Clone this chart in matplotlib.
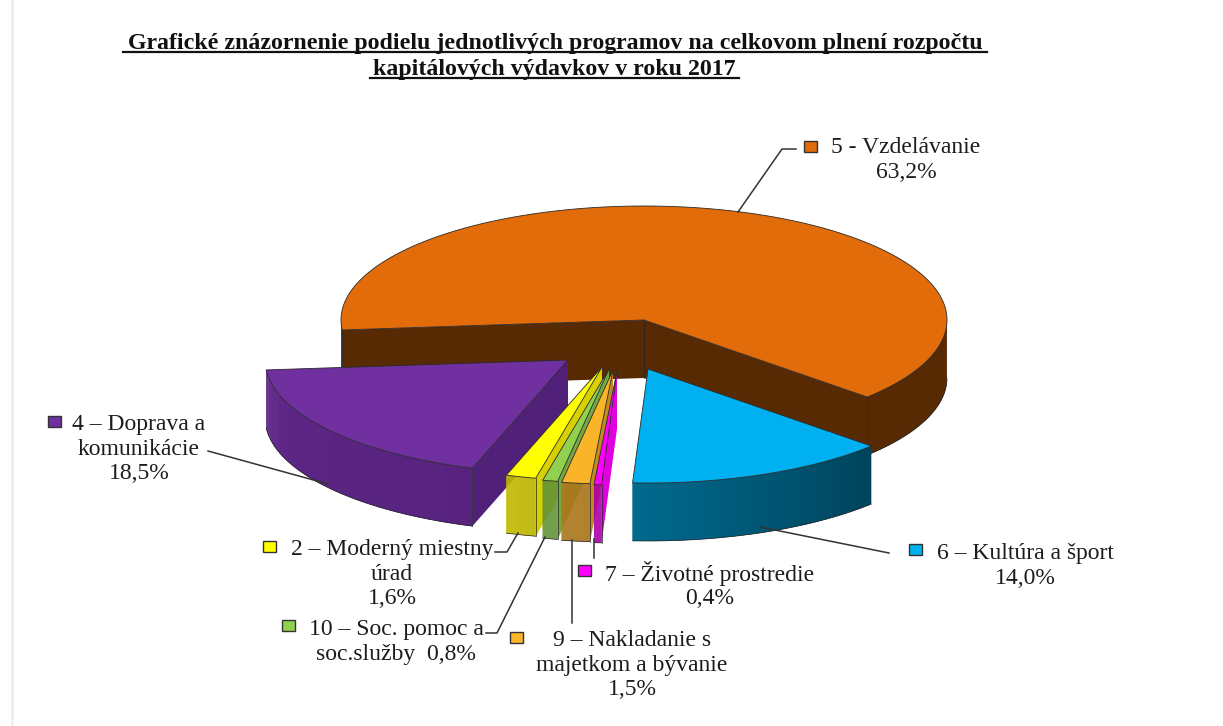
import numpy as np
import matplotlib
matplotlib.use('Agg')
import matplotlib.pyplot as plt
from matplotlib.colors import to_rgb
from matplotlib.patches import Polygon, Rectangle

plt.rcParams['font.family'] = ['Liberation Serif', 'DejaVu Serif']

# data, clockwise from the left edge of the pie
programy = ['5 - Vzdelávanie', '6 – Kultúra a šport', '7 – Životné prostredie',
            '9 – Nakladanie s\nmajetkom a bývanie', '10 – Soc. pomoc a\nsoc.služby ',
            '2 – Moderný miestny\núrad', '4 – Doprava a\nkomunikácie']
podiel = [63.2, 14.0, 0.4, 1.5, 0.8, 1.6, 18.5]
nadpis = ['Grafické znázornenie podielu jednotlivých programov na celkovom plnení rozpočtu',
          'kapitálových výdavkov v roku 2017']

# look of the slices
top_col = ['#E26B0A', '#00B0F0', '#FF00FF', '#F9B428', '#92D050', '#FFFF00', '#7030A0']
wall_a = ['#572A03', '#006A8E', '#B000B0', '#AE7A1E', '#64963A', '#C4BC00', '#5E2688']
wall_b = ['#572A03', '#00435C', '#B000B0', '#A87519', '#64963A', '#BDB500', '#58237F']
side_col = ['#572A03', '#00435C', '#E000E0', '#C08C20', '#74A844', '#D8D000', '#512079']
apex = [(644, 320), (648, 369), (617, 371), (613, 370), (609, 369), (602, 367), (568, 360)]
draw_order = [0, 1, 6, 5, 4, 3, 2]

rx, ry, depth = 303, 114, 58
start = 185.0

# (x of key, y of key, x of text centre, y of first line, leader points)
lab_pos = [
    (810, 146, 906, 146, [(738, 212), (782, 149), (796, 149)]),
    (915, 549, 1025, 552, [(760, 527), (889, 553)]),
    (584, 570, 710, 572, [(594, 539), (594, 558)]),
    (516, 637, 632, 639, [(572, 540), (572, 623)]),
    (288, 625, 396, 628, [(545, 537), (497, 633), (486, 633)]),
    (269, 546, 392, 548, [(518, 533), (507, 552), (495, 552)]),
    (54, 421, 139, 423, [(208, 451), (328, 484)]),
]

fig = plt.figure(figsize=(12.23, 7.26), dpi=100)
ax = fig.add_axes([0, 0, 1, 1])
ax.set_xlim(0, 1223)
ax.set_ylim(726, 0)
ax.axis('off')

ax.plot([11.5, 11.5], [0, 726], color='#eeeeee', lw=2)


def rim(c, a):
    a = np.radians(a)
    return np.column_stack([c[0] + rx * np.cos(a), c[1] - ry * np.sin(a)])


def quad(p, q, col, z):
    pts = [p, q, (q[0], q[1] + depth), (p[0], p[1] + depth)]
    ax.add_patch(Polygon(pts, closed=True, fc=col, ec='none', zorder=z))


angles = start - np.cumsum([0] + podiel) * 3.6
for z0, i in enumerate(draw_order):
    z = 2 + z0
    c = apex[i]
    a0, a1 = angles[i], angles[i + 1]
    arc = rim(c, np.linspace(a0, a1, 200))

    # radial walls, only those facing the viewer
    for edge, sign in ((arc[0], -1), (arc[-1], 1)):
        if sign * (edge[0] - c[0]) > 0:
            quad(c, edge, side_col[i], z)
            ax.plot([edge[0], edge[0]], [edge[1], edge[1] + depth], color='#222222', lw=0.5, zorder=z + 0.5)
    if i == 0:
        ax.plot([c[0], c[0]], [c[1], c[1] + depth], color='#222222', lw=0.5, zorder=z + 0.5)

    # outer wall, split in strips for the shading
    vis = np.linspace(a0, a1, 200)
    mask = np.sin(np.radians(vis)) < 0.0
    parts = np.split(vis[mask], np.where(np.diff(np.where(mask)[0]) > 1)[0] + 1)
    ca, cb = np.array(to_rgb(wall_a[i])), np.array(to_rgb(wall_b[i]))
    for part in parts:
        if len(part) < 2:
            continue
        pts = rim(c, part)
        for k in range(len(pts) - 1):
            t = k / (len(pts) - 1)
            col = cb + (ca - cb) * t
            # strips overlap so no seams show
            quad(pts[k], pts[min(k + 2, len(pts) - 1)], col, z + 0.1)
        ax.plot(pts[:, 0], pts[:, 1] + depth, color='#222222', lw=0.5, zorder=z + 0.5)

    # top face
    top = np.vstack([[c], arc])
    ax.add_patch(Polygon(top, closed=True, fc=top_col[i], ec='#2a2a2a', lw=0.6, zorder=z + 0.6))

# labels with their keys and leaders
for i, naz in enumerate(programy):
    kx, ky, tx, ty, lead = lab_pos[i]
    ax.add_patch(Rectangle((kx - 6.5, ky - 5.5), 13, 11, fc=top_col[i], ec='#333333', lw=1.0, zorder=20))
    hodn = f'{podiel[i]:.1f}%'.replace('.', ',')
    if i == 4:
        lines = naz.split('\n')
        lines[1] = lines[1] + ' ' + hodn
    else:
        lines = naz.split('\n') + [hodn]
    for n, line in enumerate(lines):
        ax.text(tx, ty + 1.5 + n * 24.7, line, fontsize=17, ha='center', va='center', color='#1c1c1c', zorder=21)
    ax.plot([p[0] for p in lead], [p[1] for p in lead], color='#333333', lw=1.1, zorder=19)

# title, underlined by hand
ax.text(555, 43, nadpis[0], fontsize=17.2, fontweight='bold', ha='center', va='center', color='#111111')
ax.text(554, 69, nadpis[1], fontsize=17.2, fontweight='bold', ha='center', va='center', color='#111111')
ax.plot([123, 987], [52, 52], color='#111111', lw=1.6)
ax.plot([370, 739], [78, 78], color='#111111', lw=1.6)

fig.savefig('out.png', dpi=100)
